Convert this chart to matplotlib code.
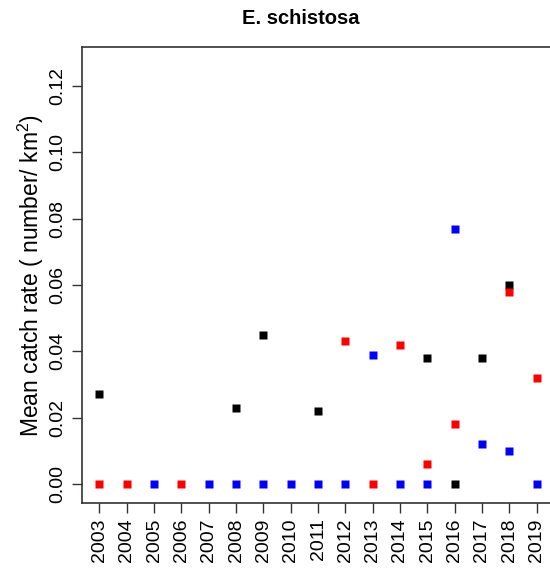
import numpy as np
import matplotlib
matplotlib.use('Agg')
import matplotlib.pyplot as plt

plt.rcParams['font.family'] = ['Liberation Sans', 'DejaVu Sans']
plt.rcParams['mathtext.default'] = 'regular'

years = list(range(2003, 2020))
nan = np.nan
# black series
black_vals = [0.027, nan, nan, nan, nan, 0.023, 0.045, nan, 0.022, nan,
              nan, nan, 0.038, 0.0, 0.038, 0.060, nan]
# red series
red_vals = [0.0, 0.0, nan, 0.0, nan, nan, nan, nan, nan, 0.043,
            0.0, 0.042, 0.006, 0.018, nan, 0.058, 0.032]
# blue series
blue_vals = [nan, nan, 0.0, nan, 0.0, 0.0, 0.0, 0.0, 0.0, 0.0,
             0.039, 0.0, 0.0, 0.077, 0.012, 0.010, 0.0]
yticks = [0.00, 0.02, 0.04, 0.06, 0.08, 0.10, 0.12]

fig = plt.figure(figsize=(5.5, 5.69), dpi=100)
ax = fig.add_axes([82/550, 66/569, 472/550, 456/569])

ms = 5.8
ax.plot(years, black_vals, 's', color='black', ms=ms, mec='none')
ax.plot(years, red_vals, 's', color='#FF0000', ms=ms, mec='none')
ax.plot(years, blue_vals, 's', color='#0000FF', ms=ms, mec='none')

ax.set_xlim(2002.36, 2019.64)
ax.set_ylim(-0.0057, 0.1317)
ax.set_xticks(years)
ax.set_xticklabels([str(y) for y in years], rotation=90, fontsize=14)
ax.set_yticks(yticks)
ax.set_yticklabels(['%.2f' % v for v in yticks], rotation=90, va='center', fontsize=14)
ax.tick_params(direction='out', length=7, width=1, colors='#333333', labelcolor='black', pad=4)
for s in ax.spines.values():
    s.set_linewidth(1.2)
    s.set_color('#333333')

ax.set_ylabel('Mean catch rate ( number/ km$^{2}$)', fontsize=16.5, labelpad=3)
fig.text(301/550, 1 - 18/569, 'E. schistosa', ha='center', va='center',
         fontsize=14.5, fontweight='bold')

fig.savefig('out.png', dpi=100)
